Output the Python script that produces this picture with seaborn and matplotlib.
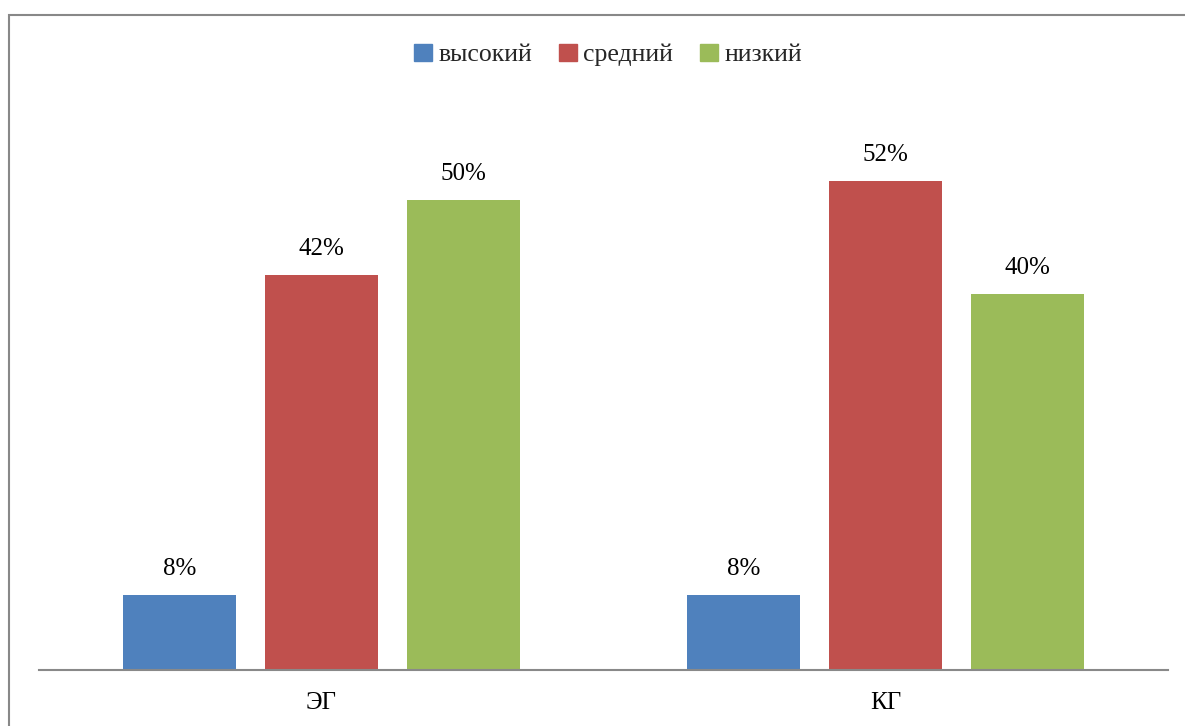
import matplotlib
matplotlib.use("Agg")
import matplotlib.pyplot as plt
import seaborn as sns
import pandas as pd
from matplotlib.patches import Rectangle

groups = ["ЭГ", "КГ"]
levels = ["высокий", "средний", "низкий"]
high = [8, 8]
mid = [42, 52]
low = [50, 40]
colors = ["#4F81BD", "#C0504D", "#9BBB59"]

rows = []
for i, g in enumerate(groups):
    for lvl, vals in zip(levels, [high, mid, low]):
        rows.append({"group": g, "level": lvl, "value": vals[i]})
df = pd.DataFrame(rows)

sns.set_style("white")
plt.rcParams["font.family"] = ["Liberation Serif", "DejaVu Serif"]

W, H = 1185, 726
fig = plt.figure(figsize=(W / 100, H / 100), dpi=100)
ax = fig.add_axes([39 / W, (H - 670) / H, (1168 - 39) / W, (670 - 106) / H])

sns.barplot(data=df, x="group", y="value", hue="level", order=groups,
            hue_order=levels, palette=colors, width=0.754, gap=0.203,
            saturation=1, ax=ax, legend=False, edgecolor="none")

ax.set_xlim(-0.5, 1.5)
ax.set_ylim(0, 60)
for c in ax.containers:
    ax.bar_label(c, labels=[f"{v:g}%" for v in c.datavalues], padding=11,
                 fontsize=18, color="black")

for s in ["top", "right", "left"]:
    ax.spines[s].set_visible(False)
ax.spines["bottom"].set_color("#898989")
ax.spines["bottom"].set_linewidth(1.5)
ax.set_yticks([])
ax.set_xlabel("")
ax.set_ylabel("")
ax.tick_params(axis="x", length=0, pad=16, labelsize=18, colors="black")

handles = [Rectangle((0, 0), 1, 1, color=c) for c in colors]
fig.legend(handles, levels, loc="center", bbox_to_anchor=(608 / W, 1 - 55 / H),
           ncol=3, frameon=False, fontsize=18.5, handlelength=0.7,
           handleheight=0.7, handletextpad=0.25, columnspacing=1.05)

fig.patches.append(Rectangle((9 / W, -0.1), 1.2, (H - 15) / H + 0.1,
                             transform=fig.transFigure, fill=False,
                             edgecolor="#888888", linewidth=1.5))

fig.savefig("out.png", dpi=100)
